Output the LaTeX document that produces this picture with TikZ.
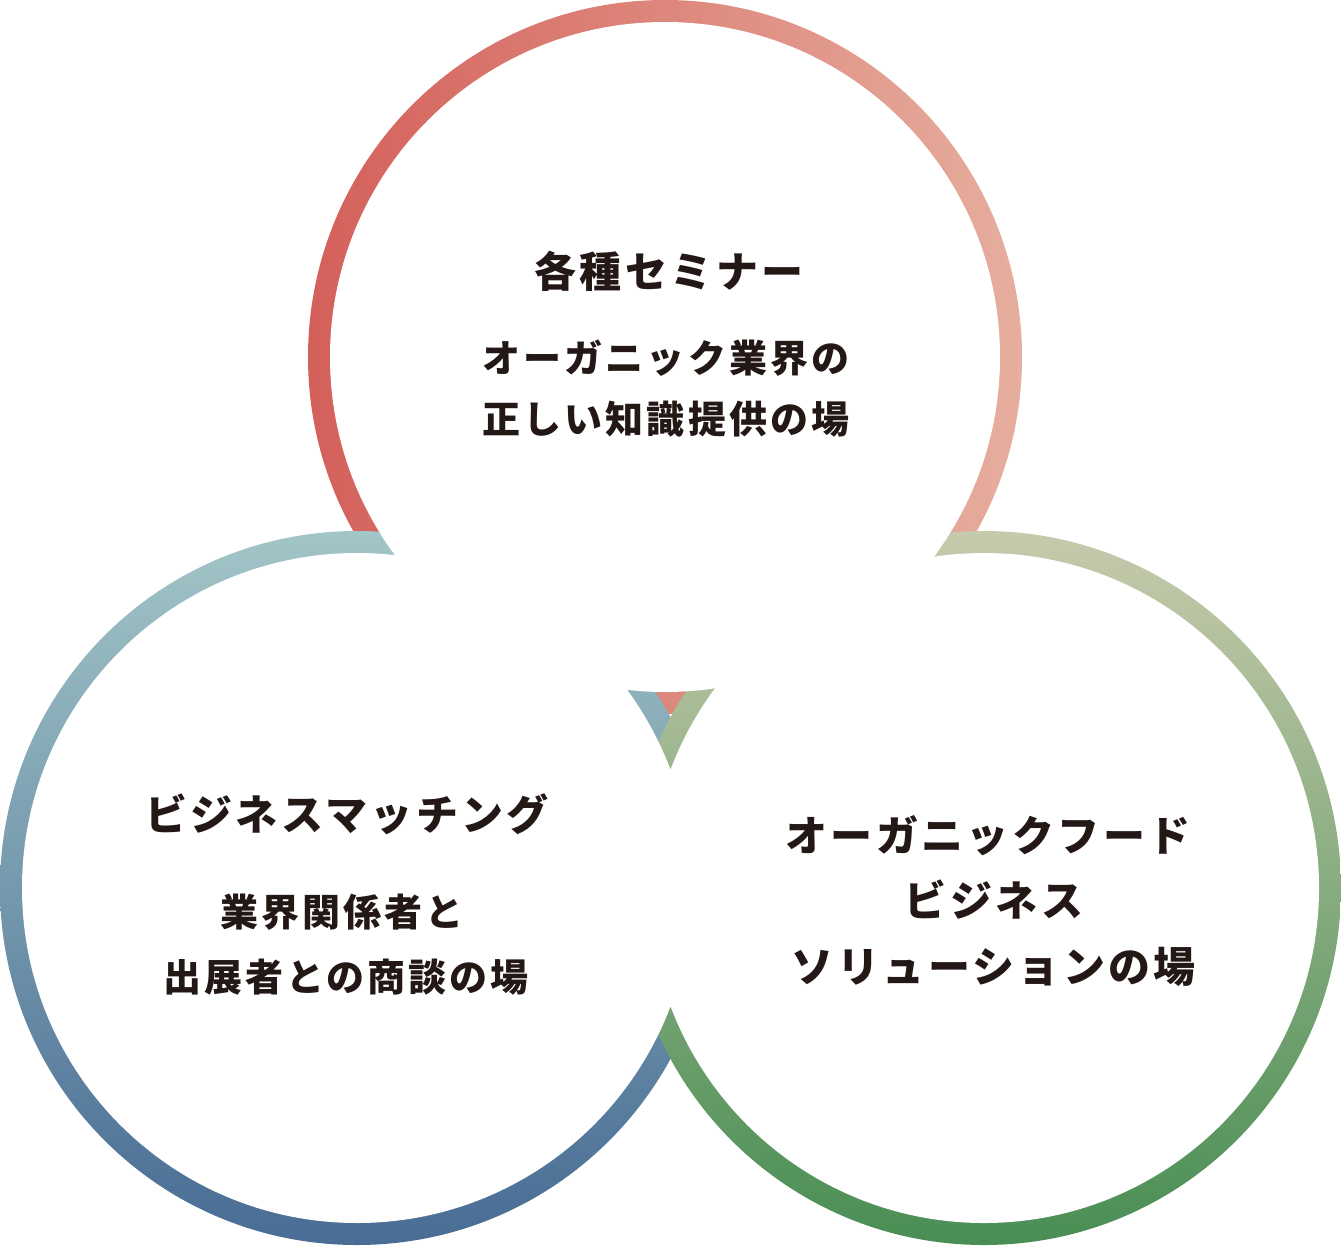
\documentclass[tikz,border=0pt]{standalone}
\usepackage{fontspec}
\newfontfamily\jptitle{Noto Sans CJK JP}[LetterSpace=8]
\newfontfamily\jpsub{Noto Sans CJK JP}[LetterSpace=8]
\definecolor{ink}{HTML}{231815}
\definecolor{topL}{HTML}{D4605A}
\definecolor{topR}{HTML}{E6AE9E}
\definecolor{blT}{HTML}{A2C5C7}
\definecolor{blB}{HTML}{486C94}
\definecolor{brT}{HTML}{C6CAAC}
\definecolor{brB}{HTML}{498E54}
\begin{document}
\begin{tikzpicture}[x=1pt,y=-1pt,
  ttl/.style={font=\jptitle\bfseries\fontsize{42}{50}\selectfont, text=ink, inner sep=0pt},
  sub/.style={font=\jpsub\bfseries\fontsize{38}{45}\selectfont, text=ink, inner sep=0pt}]
\useasboundingbox (0,0) rectangle (1341,1245);
\coordinate (T) at (665,357);
\coordinate (L) at (357,888);
\coordinate (R) at (984,888);
% rings (outer disks, drawn in stacking order)
\shade[left color=topL, right color=topR] (T) circle (357pt);
\shade[top color=blT, bottom color=blB] (L) circle (357pt);
\shade[top color=brT, bottom color=brB] (R) circle (357pt);
% inner white disks
\fill[white] (T) circle (335pt) (L) circle (335pt) (R) circle (335pt);
% texts: top circle
\node[ttl] (t1) at (669,271) {各種セミナー};
\node[sub] (t2) at (666,358) {オーガニック業界の};
\node[sub] (t3) at (666,419) {正しい知識提供の場};
% texts: bottom-left circle
\node[ttl] (l1) at (347,814) {ビジネスマッチング};
\node[sub] (l2) at (342,912) {業界関係者と};
\node[sub] (l3) at (346,977) {出展者との商談の場};
% texts: bottom-right circle
\node[ttl] (r1) at (988,836) {オーガニックフード};
\node[ttl] (r2) at (994,900) {ビジネス};
\node[ttl] (r3) at (994,967) {ソリューションの場};
\end{tikzpicture}
\end{document}
